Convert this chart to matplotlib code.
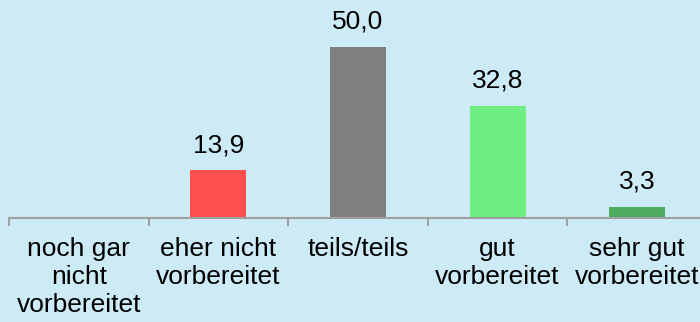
import matplotlib
matplotlib.use("Agg")
import matplotlib.pyplot as plt
import numpy as np

# Selbsteinschaetzung der Vorbereitung, Anteile in Prozent
categories = ["noch gar\nnicht\nvorbereitet", "eher nicht\nvorbereitet", "teils/teils",
              "gut\nvorbereitet", "sehr gut\nvorbereitet"]
values = [0.0, 13.9, 50.0, 32.8, 3.3]
value_labels = [None, "13,9", "50,0", "32,8", "3,3"]
bar_colors = ["#FF4F4F", "#FF4F4F", "#808080", "#70EE83", "#4FAB5E"]

BG = "#CCEBF6"
plt.rcParams['font.family'] = ['Liberation Sans', 'DejaVu Sans']

fig = plt.figure(figsize=(7.0, 3.22), dpi=100, facecolor=BG)
ax = fig.add_axes([9 / 700, 104 / 322, 698 / 700, 218 / 322])
ax.set_facecolor(BG)

x = np.arange(len(categories))
bars = ax.bar(x, values, width=0.4, color=bar_colors, zorder=2)

for xi, v, lab in zip(x, values, value_labels):
  if lab is None:
    continue
  ax.annotate(lab, (xi, v), xytext=(0, 13), textcoords="offset points",
              ha="center", va="baseline", fontsize=19, color="black")

ax.set_xlim(-0.5, len(categories) - 0.5)
ax.set_ylim(0, 218 / 3.42)

# Trennstriche zwischen den Kategorien, Beschriftung mittig
ax.set_xticks(np.arange(-0.5, len(categories), 1.0))
ax.set_xticklabels([])
ax.set_xticks(x, minor=True)
ax.set_xticklabels(categories, minor=True, fontsize=19, linespacing=1.2)
ax.tick_params(axis="x", which="major", length=6, width=1.5, color="#A0A0A0", direction="out")
ax.tick_params(axis="x", which="minor", length=0, pad=14)
ax.set_yticks([])

for side in ("left", "right", "top"):
  ax.spines[side].set_visible(False)
ax.spines["bottom"].set_color("#A0A0A0")
ax.spines["bottom"].set_linewidth(1.5)

fig.savefig("out.png", dpi=100, facecolor=BG)
